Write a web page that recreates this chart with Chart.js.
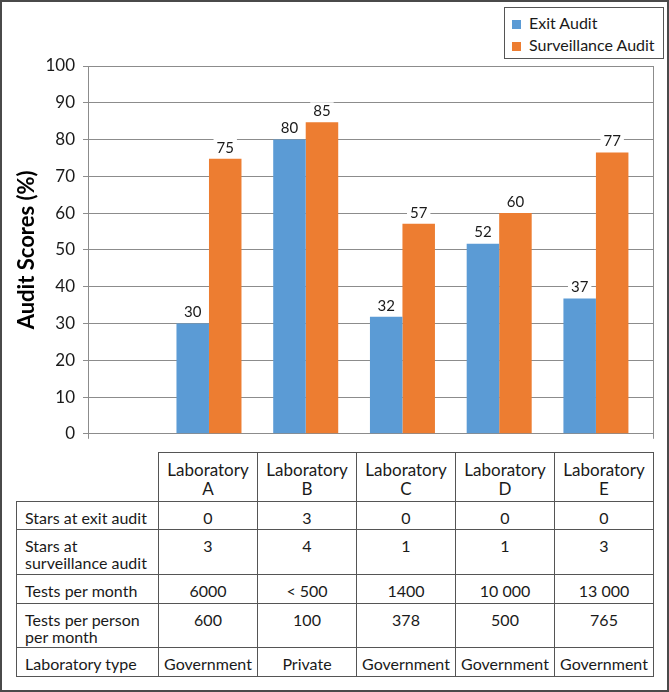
<!DOCTYPE html>
<html>
<head>
<meta charset="utf-8">
<script src="https://cdn.jsdelivr.net/npm/chart.js@4.4.1/dist/chart.umd.min.js"></script>
<style>
    body {
        margin: 0;
        background: #fff;
        font-family: 'Lato', sans-serif;
    }

    .frame {
        position: absolute;
        left: 0;
        top: 0;
        width: 669px;
        height: 692px;
        box-sizing: border-box;
        border: 2px solid #4a4a4a;
        pointer-events: none;
    }

    #chart-wrap {
        position: absolute;
        left: 0;
        top: 0;
        width: 669px;
        height: 452px;
    }

    .legend {
        position: absolute;
        left: 504px;
        top: 7px;
        width: 160px;
        height: 52px;
        box-sizing: border-box;
        border: 1px solid #555;
        background: #fff;
        font-size: 16px;
        color: #1a1a1a;
    }

    .legend-item {
        position: absolute;
        left: 7px;
        height: 20px;
        line-height: 20px;
        white-space: nowrap;
    }

    .legend-item span {
        display: inline-block;
        width: 9px;
        height: 9px;
        margin-right: 8px;
        vertical-align: 0px;
    }

    table {
        position: absolute;
        left: 16px;
        top: 452px;
        border-collapse: collapse;
        table-layout: fixed;
        font-size: 16px;
        color: #1a1a1a;
    }

    td {
        border: 1px solid #555;
        padding: 7px 0 0 0;
        vertical-align: top;
        text-align: center;
        line-height: 17px;
        width: 98px;
    }

    td.row-label {
        text-align: left;
        padding-left: 8px;
        width: 133px;
    }

    tr.head td {
        line-height: 19px;
        font-size: 17px;
    }

    tr.head td.blank {
        border: none;
    }
</style>
</head>
<body>
<div id="chart-wrap">
    <canvas id="audit-chart" width="669" height="452"></canvas>
</div>
<div class="legend" id="legend"></div>
<table id="info-table"></table>
<div class="frame"></div>

<script>
let labs = ['A', 'B', 'C', 'D', 'E'];
let exitAudit = [30, 80, 31.8, 51.7, 36.8];
let surveillanceAudit = [74.8, 84.7, 57.1, 60, 76.5];

let rowLabels = ['Stars at exit audit', 'Stars at<br>surveillance audit', 'Tests per month', 'Tests per person<br>per month', 'Laboratory type'];
let starsExit = ['0', '3', '0', '0', '0'];
let starsSurveillance = ['3', '4', '1', '1', '3'];
let testsPerMonth = ['6000', '&lt; 500', '1400', '10 000', '13 000'];
let testsPerPerson = ['600', '100', '378', '500', '765'];
let labType = ['Government', 'Private', 'Government', 'Government', 'Government'];
let rowHeights = [49, 28, 45, 29, 44, 29];

let blue = '#5b9bd5';
let orange = '#ed7d31';
let gridGrey = '#8c8c8c';

function toPoints(values) {
    return values.map(function(v, i) {
        return {x: i + 1, y: v};
    });
}

// labels above the bars, on a white box that cuts the gridlines
const barLabels = {
    id: 'barLabels',
    afterDatasetsDraw(chart) {
        let ctx = chart.ctx;
        ctx.save();
        ctx.font = '15px Lato';
        ctx.textAlign = 'center';
        ctx.textBaseline = 'middle';
        chart.data.datasets.forEach(function(ds, d) {
            let meta = chart.getDatasetMeta(d);
            meta.data.forEach(function(bar, i) {
                let text = String(Math.round(ds.data[i].y));
                let w = ctx.measureText(text).width;
                let y = bar.y - 12;
                ctx.fillStyle = '#fff';
                ctx.fillRect(bar.x - w / 2 - 3, y - 8, w + 6, 16);
                ctx.fillStyle = '#1a1a1a';
                ctx.fillText(text, bar.x, y + 1);
            });
        });
        ctx.restore();
    }
};

let ctx = document.getElementById('audit-chart');
let chart = new Chart(ctx, {
    type: 'bar',
    data: {
        datasets: [{
            label: 'Exit Audit',
            data: toPoints(exitAudit),
            backgroundColor: blue
        }, {
            label: 'Surveillance Audit',
            data: toPoints(surveillanceAudit),
            backgroundColor: orange
        }]
    },
    options: {
        responsive: false,
        animation: false,
        categoryPercentage: 0.672,
        barPercentage: 1,
        layout: {
            padding: {top: 66, right: 16, left: 0, bottom: 0}
        },
        plugins: {
            legend: {display: false},
            tooltip: {enabled: false}
        },
        scales: {
            x: {
                type: 'linear',
                min: -0.2506,
                max: 5.59,
                offset: false,
                afterBuildTicks: function(scale) {
                    scale.ticks = [{value: scale.min}, {value: scale.max}];
                },
                afterFit: function(scale) {
                    scale.height = 13;
                },
                ticks: {display: false},
                grid: {
                    offset: false,
                    color: gridGrey,
                    drawTicks: true,
                    tickLength: 5
                },
                border: {color: gridGrey}
            },
            y: {
                min: 0,
                max: 100,
                afterFit: function(scale) {
                    scale.width = 88;
                },
                ticks: {
                    stepSize: 10,
                    padding: 8,
                    color: '#1a1a1a',
                    font: {family: 'Lato', size: 17}
                },
                grid: {
                    color: gridGrey,
                    drawTicks: true,
                    tickLength: 5
                },
                border: {color: gridGrey},
                title: {
                    display: true,
                    text: 'Audit Scores (%)',
                    color: '#000',
                    font: {family: 'Lato', size: 22, weight: 'bold'},
                    padding: {top: 14, bottom: 0}
                }
            }
        }
    },
    plugins: [barLabels]
});

// legend built from the datasets
let legendHTML = '';
chart.data.datasets.forEach(function(ds, i) {
    legendHTML += `<div class="legend-item" style="top:${5 + i * 22}px"><span style="background:${ds.backgroundColor}"></span>${ds.label}</div>`;
});
document.getElementById('legend').innerHTML = legendHTML;

// table under the chart
function renderTable() {
    let html = `<tr class="head" style="height:${rowHeights[0]}px"><td class="blank row-label"></td>`;
    for (let i = 0; i < labs.length; i++) {
        html += `<td>Laboratory<br>${labs[i]}</td>`;
    }
    html += '</tr>';
    let rows = [starsExit, starsSurveillance, testsPerMonth, testsPerPerson, labType];
    for (let r = 0; r < rows.length; r++) {
        html += `<tr style="height:${rowHeights[r + 1]}px"><td class="row-label">${rowLabels[r]}</td>`;
        for (let i = 0; i < rows[r].length; i++) {
            html += `<td>${rows[r][i]}</td>`;
        }
        html += '</tr>';
    }
    document.getElementById('info-table').innerHTML = html;
}

renderTable();
</script>
</body>
</html>
